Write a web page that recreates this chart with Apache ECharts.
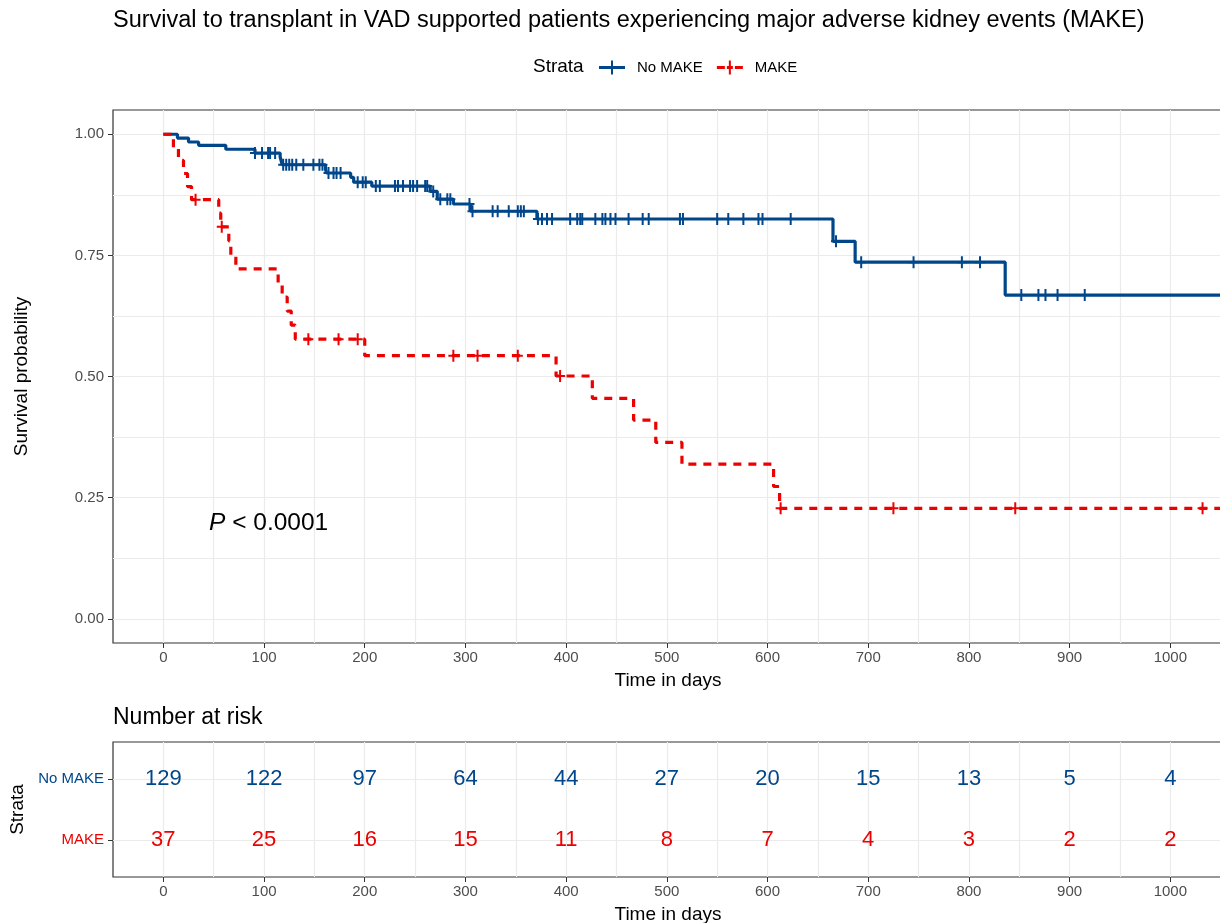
<!DOCTYPE html>
<html><head><meta charset="utf-8">
<script src="https://cdn.jsdelivr.net/npm/echarts@6/dist/echarts.min.js"></script>
<style>html,body{margin:0;padding:0;background:#fff}#c{width:1220px;height:923px}</style>
</head><body><div id="c"></div>
<script>
// ---------------- DATA ----------------
const strata = ['No MAKE', 'MAKE'];

// Kaplan-Meier step points (time in days, survival probability)
const noMakeTimes = [0, 14, 25, 35, 62, 91, 116, 117, 118, 161, 162, 186, 189, 207, 265, 272, 288, 305, 371, 665, 687, 836];
const noMakeSurv  = [1, 0.992, 0.984, 0.977, 0.969, 0.961, 0.953, 0.945, 0.937, 0.928, 0.920, 0.911, 0.901, 0.893, 0.882, 0.866, 0.856, 0.841, 0.825, 0.779, 0.736, 0.668];
const noMakeCensorTimes = [91, 98, 104, 106, 111, 119, 122, 125, 128, 132, 139, 149, 155, 158, 164, 169, 172, 176, 193, 198, 201,
  211, 215, 230, 233, 238, 245, 248, 252, 260, 262, 268, 275, 282, 285, 304, 307, 327, 332, 343, 352, 355, 358,
  372, 376, 381, 386, 404, 411, 414, 416, 429, 436, 439, 444, 449, 462, 476, 482, 513, 516, 550, 561, 576, 591, 595, 623,
  668, 693, 745, 793, 811, 852, 869, 876, 888, 915];

const makeTimes = [0, 10, 15, 20, 24, 28, 55, 57, 65, 67, 72, 114, 118, 123, 127, 131, 200, 390, 426, 467, 489, 515, 606, 612];
const makeSurv  = [1, 0.973, 0.946, 0.919, 0.892, 0.865, 0.837, 0.809, 0.780, 0.751, 0.722, 0.693, 0.664, 0.635, 0.606, 0.577, 0.543, 0.501, 0.455, 0.410, 0.364, 0.319, 0.273, 0.228];
const makeCensorTimes = [32, 58, 144, 174, 193, 288, 312, 352, 394, 613, 725, 846, 1032];

const followUpEnd = 1100;

// axis ticks
const xTicks = [0, 100, 200, 300, 400, 500, 600, 700, 800, 900, 1000];
const xGrid = [0, 50, 100, 150, 200, 250, 300, 350, 400, 450, 500, 550, 600, 650, 700, 750, 800, 850, 900, 950, 1000];
const yTicks = [0, 0.25, 0.5, 0.75, 1];
const yGrid = [0, 0.125, 0.25, 0.375, 0.5, 0.625, 0.75, 0.875, 1];

// number at risk
const riskTimes = [0, 100, 200, 300, 400, 500, 600, 700, 800, 900, 1000];
const noMakeRisk = [129, 122, 97, 64, 44, 27, 20, 15, 13, 5, 4];
const makeRisk = [37, 25, 16, 15, 11, 8, 7, 4, 3, 2, 2];

const pValueText = 'P < 0.0001';

// ---------------- BUILD ----------------
const BLUE = '#00468B', RED = '#ED0000';
const FONT = "'Liberation Sans', Arial, Helvetica, sans-serif";

function stepData(times, surv) {
  const d = times.map((t, i) => [t, surv[i]]);
  d.push([followUpEnd, surv[surv.length - 1]]);
  return d;
}
function survAt(times, surv, t) {
  let s = surv[0];
  for (let i = 0; i < times.length; i++) if (times[i] <= t) s = surv[i];
  return s;
}
const censorData = (ct, times, surv) => ct.map(t => [t, survAt(times, surv, t)]);

const plusPath = 'path://M4,0H6V5H10V7H6V12H4V7H0V5H4Z';
const legendSolid = 'path://M0,5.5H26V8.5H0Z M12,0H14V14H12Z';
const legendDashed = 'path://M0,5.5H8V8.5H0Z M10,5.5H16V8.5H10Z M18,5.5H26V8.5H18Z M12,0H14V14H12Z';

const XMIN = -50, XMAX = 1052.3;
const G0 = {left: 113, top: 110, width: 1110, height: 533};
const G1 = {left: 113, top: 742, width: 1110, height: 135};

function gridAxisX(gi) {
  return {gridIndex: gi, type: 'value', min: XMIN, max: XMAX, position: 'bottom',
    axisLine: {show: false, onZero: false}, axisTick: {show: false, customValues: xGrid}, axisLabel: {show: false},
    splitLine: {show: true, lineStyle: {color: '#EBEBEB', width: 1.2}}};
}
function tickAxisX(gi) {
  return {gridIndex: gi, type: 'value', min: XMIN, max: XMAX, position: 'bottom',
    axisLine: {show: false, onZero: false},
    axisTick: {show: true, customValues: xTicks, length: 5, lineStyle: {color: '#333', width: 1}},
    axisLabel: {show: true, customValues: xTicks, formatter: v => String(v), color: '#4D4D4D', fontSize: 15, margin: 7, fontFamily: FONT},
    splitLine: {show: false},
    name: 'Time in days', nameLocation: 'middle', nameGap: 28,
    nameTextStyle: {fontSize: 19, color: '#000', fontFamily: FONT}};
}
const gridStyle = {show: true, borderColor: '#333', borderWidth: 1.2, backgroundColor: '#fff', containLabel: false, outerBoundsMode: 'none'};

const chart = echarts.init(document.getElementById('c'), null, {renderer: 'canvas'});
const option = {
  animation: false,
  backgroundColor: '#fff',
  textStyle: {fontFamily: FONT},
  grid: [Object.assign({}, gridStyle, G0), Object.assign({}, gridStyle, G1)],
  xAxis: [gridAxisX(0), tickAxisX(0), gridAxisX(1), tickAxisX(1)],
  yAxis: [
    {gridIndex: 0, type: 'value', min: -0.05, max: 1.05,
      axisLine: {show: false, onZero: false}, axisTick: {show: false, customValues: yGrid}, axisLabel: {show: false},
      splitLine: {show: true, lineStyle: {color: '#EBEBEB', width: 1.2}}},
    {gridIndex: 0, type: 'value', min: -0.05, max: 1.05, position: 'left',
      axisLine: {show: false, onZero: false},
      axisTick: {show: true, customValues: yTicks, length: 5, lineStyle: {color: '#333'}},
      axisLabel: {show: true, customValues: yTicks, formatter: v => Number(v).toFixed(2), color: '#4D4D4D', fontSize: 15, margin: 9},
      splitLine: {show: false},
      name: 'Survival probability', nameLocation: 'middle', nameGap: 82, nameRotate: 90,
      nameTextStyle: {fontSize: 19, color: '#000'}},
    {gridIndex: 1, type: 'value', min: 0.4, max: 2.6, position: 'left',
      axisLine: {show: false, onZero: false},
      axisTick: {show: true, customValues: [1, 2], length: 5, lineStyle: {color: '#333'}},
      axisLabel: {show: true, customValues: [1, 2], margin: 9,
        formatter: v => (Number(v) === 2 ? '{a|' + strata[0] + '}' : '{b|' + strata[1] + '}'),
        rich: {a: {color: BLUE, fontSize: 15, fontFamily: FONT}, b: {color: RED, fontSize: 15, fontFamily: FONT}}},
      splitLine: {show: true, lineStyle: {color: '#EBEBEB', width: 1.2}},
      name: 'Strata', nameLocation: 'middle', nameGap: 84, nameRotate: 90,
      nameTextStyle: {fontSize: 19, color: '#000'}}
  ],
  legend: {
    left: 594, top: 55, itemWidth: 26, itemHeight: 14, itemGap: 14, selectedMode: false,
    textStyle: {fontSize: 15, color: '#000', padding: [0, 0, 0, 7]},
    data: [
      {name: strata[0], icon: legendSolid, itemStyle: {color: BLUE, borderWidth: 0, opacity: 1}},
      {name: strata[1], icon: legendDashed, itemStyle: {color: RED, borderWidth: 0, opacity: 1}}
    ]
  },
  series: [
    {name: strata[0], type: 'line', xAxisIndex: 0, yAxisIndex: 0, step: 'end', symbol: 'none', z: 3,
      itemStyle: {color: BLUE}, lineStyle: {color: BLUE, width: 3.2}, data: stepData(noMakeTimes, noMakeSurv)},
    {name: strata[1], type: 'line', xAxisIndex: 0, yAxisIndex: 0, step: 'end', symbol: 'none', z: 4,
      itemStyle: {color: RED}, lineStyle: {color: RED, width: 3.2, type: [8, 7]}, data: stepData(makeTimes, makeSurv)},
    {name: strata[0] + ' censored', type: 'scatter', xAxisIndex: 0, yAxisIndex: 0, symbol: plusPath, symbolSize: [10, 12], z: 3,
      itemStyle: {color: BLUE, opacity: 1}, data: censorData(noMakeCensorTimes, noMakeTimes, noMakeSurv)},
    {name: strata[1] + ' censored', type: 'scatter', xAxisIndex: 0, yAxisIndex: 0, symbol: plusPath, symbolSize: [10, 12], z: 4,
      itemStyle: {color: RED, opacity: 1}, data: censorData(makeCensorTimes, makeTimes, makeSurv)},
    {name: strata[0] + ' at risk', type: 'scatter', xAxisIndex: 2, yAxisIndex: 2, symbolSize: 1,
      itemStyle: {color: 'rgba(0,0,0,0)', opacity: 1},
      label: {show: true, position: 'inside', formatter: p => p.value[2], fontSize: 22, color: BLUE, opacity: 1, textBorderWidth: 0},
      data: riskTimes.map((t, i) => [t, 2, noMakeRisk[i]])},
    {name: strata[1] + ' at risk', type: 'scatter', xAxisIndex: 2, yAxisIndex: 2, symbolSize: 1,
      itemStyle: {color: 'rgba(0,0,0,0)', opacity: 1},
      label: {show: true, position: 'inside', formatter: p => p.value[2], fontSize: 22, color: RED, opacity: 1, textBorderWidth: 0},
      data: riskTimes.map((t, i) => [t, 1, makeRisk[i]])}
  ],
  graphic: [
    {type: 'text', x: 113, y: 21, style: {text: 'Survival to transplant in VAD supported patients experiencing major adverse kidney events (MAKE)',
      fontSize: 23.5, fill: '#000', fontFamily: FONT, align: 'left', verticalAlign: 'middle'}},
    {type: 'text', x: 533, y: 67, style: {text: 'Strata', fontSize: 19, fill: '#000', fontFamily: FONT, align: 'left', verticalAlign: 'middle'}},
    {type: 'text', x: 113, y: 718, style: {text: 'Number at risk', fontSize: 23, fill: '#000', fontFamily: FONT, align: 'left', verticalAlign: 'middle'}},
    {type: 'text', x: 209, y: 523, z: 10, style: {text: '{i|P}' + pValueText.slice(1), fontSize: 24.5, fill: '#000', fontFamily: FONT,
      align: 'left', verticalAlign: 'middle', rich: {i: {fontStyle: 'italic', fontSize: 24.5, fontFamily: FONT}}}}
  ]
};
chart.setOption(option);
</script>
</body></html>
